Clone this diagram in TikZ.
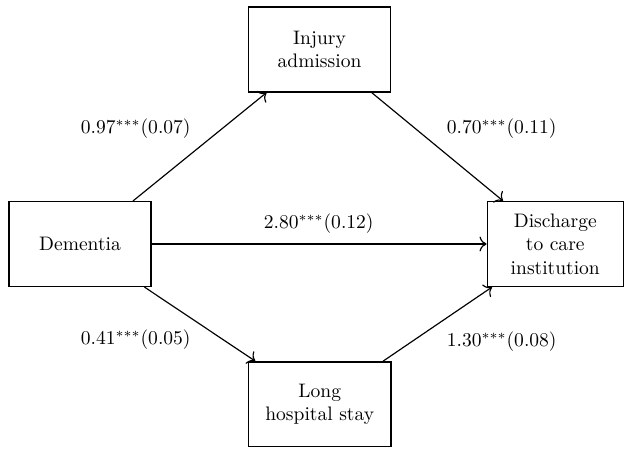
\documentclass[tikz,border=0pt]{standalone}
\usetikzlibrary{arrows.meta}
\begin{document}
\begin{tikzpicture}[x=1pt,y=1pt,
  box/.style={draw, line width=0.7pt, align=center, inner sep=0pt, minimum height=43.4pt},
  arr/.style={-{To[scale=1.25]}, line width=0.6pt},
  lab/.style={inner sep=0pt}]
\useasboundingbox (0,0) rectangle (320,229.376);
\node[box, minimum width=72.8pt] (dem) at (40.96,104.45) {Dementia};
\node[box, minimum width=72.8pt] (inj) at (163.6,204.0) {Injury\\admission};
\node[box, minimum width=72.8pt] (lhs) at (163.7,22.4) {Long\\hospital stay};
\node[box, minimum width=69.6pt] (dis) at (284.3,104.45) {Discharge\\to care\\institution};
\draw[arr] (dem) -- (inj);
\draw[arr] (inj) -- (dis);
\draw[arr] (dem) -- (dis);
\draw[arr] (dem) -- (lhs);
\draw[arr] (lhs) -- (dis);
\node[lab] (l1) at (69.5,163.3) {$0.97^{***}(0.07)$};
\node[lab] (l2) at (256.9,163.3) {$0.70^{***}(0.11)$};
\node[lab] (l3) at (163.2,114.7) {$2.80^{***}(0.12)$};
\node[lab] (l4) at (69.5,55.3) {$0.41^{***}(0.05)$};
\node[lab] (l5) at (256.9,54.3) {$1.30^{***}(0.08)$};
\end{tikzpicture}
\end{document}
